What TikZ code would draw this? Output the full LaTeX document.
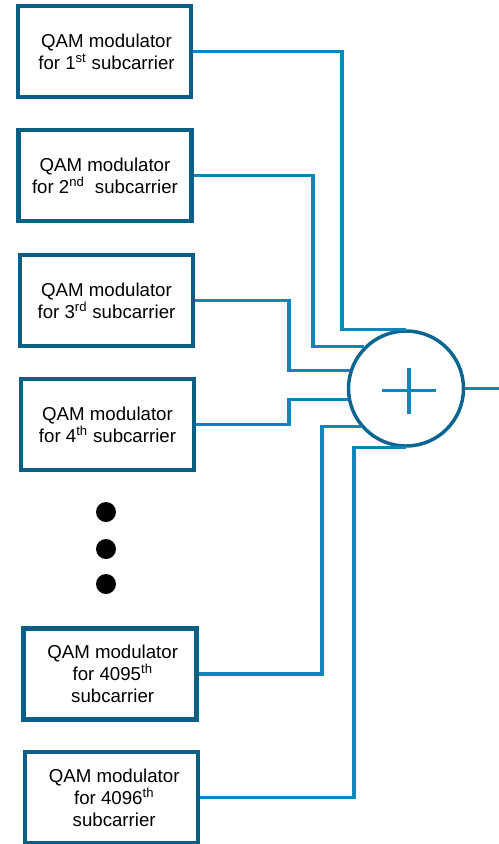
\documentclass[tikz,border=0pt]{standalone}
\usepackage{fontspec}
\setmainfont{Liberation Sans}
\usetikzlibrary{calc}
\definecolor{boxc}{HTML}{0B5E84}
\definecolor{linec}{HTML}{0C86BC}
\definecolor{circc}{HTML}{0A6690}
\begin{document}
\begin{tikzpicture}[x=0.75pt,y=-0.75pt,
  modbox/.style={draw=boxc,line width=3.4pt,minimum width=129.75pt,minimum height=68.25pt,
    align=center,font=\fontsize{14pt}{16.5pt}\selectfont,inner sep=0pt},
  conn/.style={draw=linec,line width=2.5pt},
  dotc/.style={circle,fill=black,minimum size=15pt,inner sep=0pt}]
\useasboundingbox (0,0) rectangle (499,844);
\node[modbox] (b1) at (104.5,51.5) {\hspace*{3pt}QAM modulator\\\hspace*{3pt}for 1\textsuperscript{st} subcarrier};
\node[modbox] (b2) at (105,175.5) {QAM modulator\\for 2\textsuperscript{nd}\ \ subcarrier};
\node[modbox] (b3) at (106.5,300.5) {QAM modulator\\for 3\textsuperscript{rd} subcarrier};
\node[modbox] (b4) at (107.5,424.5) {QAM modulator\\for 4\textsuperscript{th} subcarrier};
\node[modbox] (b5) at (110,674) {\hspace*{4pt}QAM modulator\\\hspace*{4pt}for 4095\textsuperscript{th}\\\hspace*{4pt}subcarrier};
\node[modbox] (b6) at (111.5,797.5) {\hspace*{4pt}QAM modulator\\\hspace*{4pt}for 4096\textsuperscript{th}\\\hspace*{4pt}subcarrier};
\node[dotc] (d1) at (106,512) {};
\node[dotc] (d2) at (106,549) {};
\node[dotc] (d3) at (106,584) {};
\node[circle,draw=circc,line width=2.6pt,minimum size=86.25pt,inner sep=0pt] (sum) at (406,388.5) {};
\draw[conn] ($(sum.center)+(-24,2)$) -- ($(sum.center)+(30,2)$);
\draw[conn] ($(sum.center)+(3,-21)$) -- ($(sum.center)+(3,25)$);
\coordinate (x1) at (342,0);
\coordinate (x2) at (313,0);
\coordinate (x3) at (289,0);
\coordinate (x5) at (322,0);
\coordinate (x6) at (354,0);
\coordinate (out) at (499,388.5);
\draw[conn] (b1.east) -| (x1 |- sum.north) -- (sum.north);
\draw[conn] (b2.east) -| (x2 |- sum.135) -- (sum.135);
\draw[conn] (b3.east) -| (x3 |- sum.162) -- (sum.162);
\draw[conn] (b4.east) -| (x3 |- sum.191.5) -- (sum.191.5);
\draw[conn] (b5.east) -| (x5 |- sum.220.7) -- (sum.220.7);
\draw[conn] (b6.east) -| (x6 |- sum.south) -- (sum.south);
\draw[conn] (sum.east) -- (out);
\end{tikzpicture}
\end{document}
